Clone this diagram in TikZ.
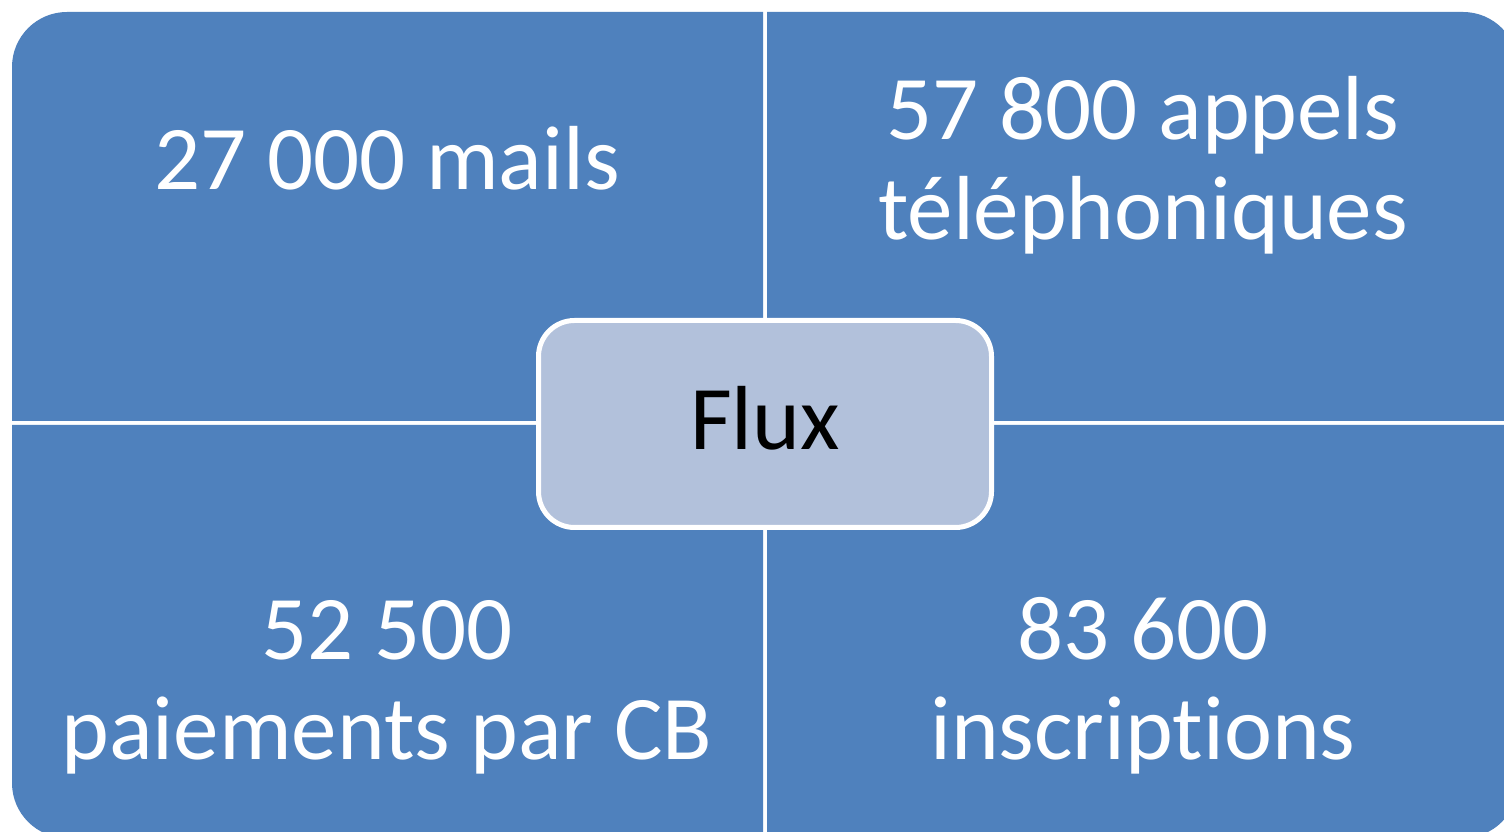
\documentclass[tikz,border=0pt]{standalone}
\usepackage{fontspec}
\setmainfont{Carlito}[Ligatures=NoCommon]
\definecolor{quadblue}{HTML}{4F81BD}
\definecolor{hubblue}{HTML}{B2C1DB}
\begin{document}
\begin{tikzpicture}[x=1pt,y=1pt,
  quad/.style={fill=quadblue},
  lbl/.style={text=white,align=center,inner sep=0pt,anchor=base,
    font=\fontsize{91}{100}\selectfont},
  hub/.style={draw=white,line width=5pt,fill=hubblue,rounded corners=36pt,
    minimum width=453pt,minimum height=207pt,inner sep=0pt,
    font=\fontsize{91}{100}\selectfont}]
\useasboundingbox (0,0) rectangle (1504,832);
\fill[white] (0,0) rectangle (1504,832);
% four quadrants, each rounded only at its outer corner
\fill[quad] (763,411) -- (12,411) -- (12,765)
  arc[start angle=180,end angle=90,radius=55] -- (763,820) -- cycle;
\fill[quad] (767,411) -- (767,820) -- (1463,820)
  arc[start angle=90,end angle=0,radius=55] -- (1518,411) -- cycle;
\fill[quad] (763,407) -- (12,407) -- (12,49)
  arc[start angle=180,end angle=270,radius=55] -- (763,-6) -- cycle;
\fill[quad] (767,407) -- (1518,407) -- (1518,49)
  arc[start angle=0,end angle=-90,radius=55] -- (767,-6) -- cycle;
% labels (base anchor sits on the last line's baseline)
\node[lbl] (mails) at (387,642) {27 000 mails};
\node[lbl] (appels) at (1143,592) {57 800 appels\\téléphoniques};
\node[lbl] (cb) at (387,72) {52 500\\paiements par CB};
\node[lbl] (inscr) at (1143,72) {83 600\\inscriptions};
% central hub
\node[hub] (flux) at (765,408) {};
\node[anchor=base,inner sep=0pt,font=\fontsize{91}{100}\selectfont] (fluxtxt) at (765,382) {Flux};
\end{tikzpicture}
\end{document}
